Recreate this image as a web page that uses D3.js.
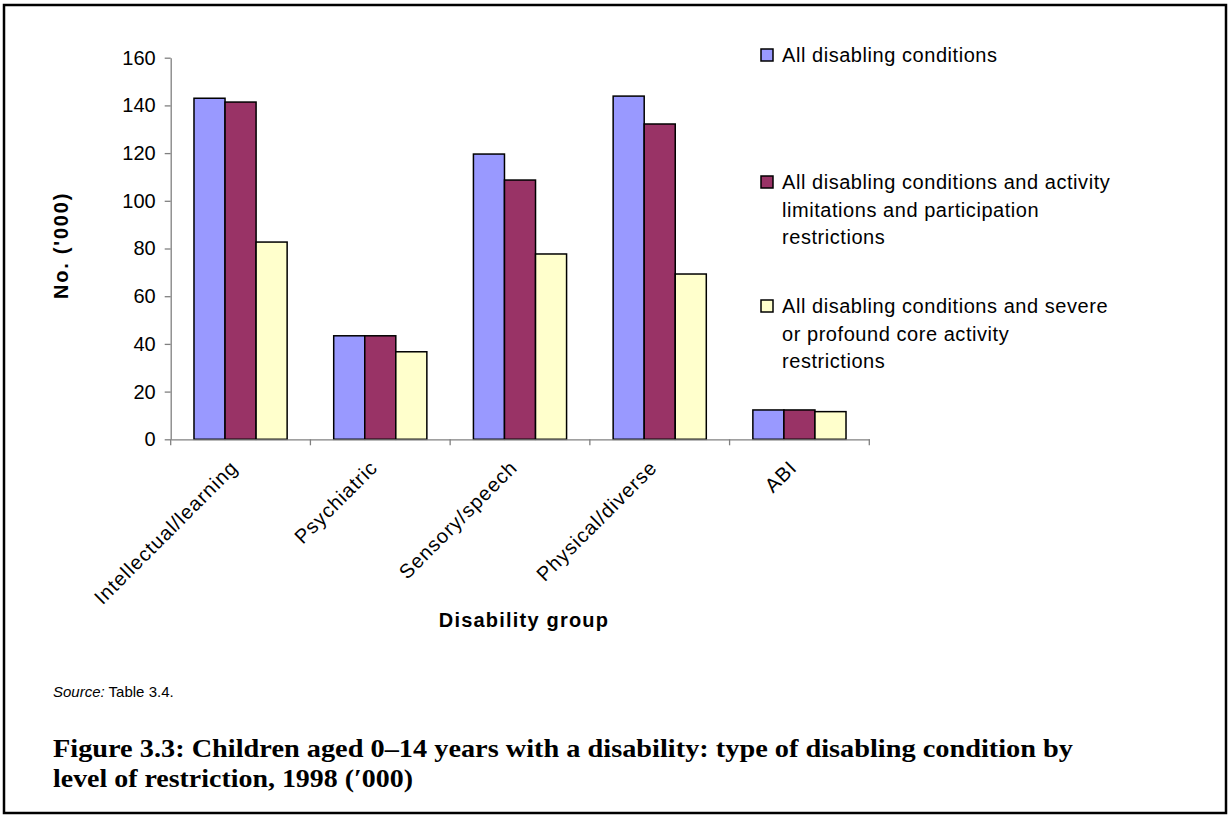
<!DOCTYPE html>
<html>
<head>
<meta charset="utf-8">
<script src="https://cdn.jsdelivr.net/npm/d3@7"></script>
<style>
  body { margin: 0; background: #fff; }
  text { font-family: "Liberation Sans", Arial, sans-serif; fill: #000; }
</style>
</head>
<body>
<div id="chart"></div>
<script>
// categories and values ('000)
var categories = ["Intellectual/learning", "Psychiatric", "Sensory/speech", "Physical/diverse", "ABI"];
var seriesNames = ["All disabling conditions",
                   "All disabling conditions and activity limitations and participation restrictions",
                   "All disabling conditions and severe or profound core activity restrictions"];
var legendLines = [["All disabling conditions"],
                   ["All disabling conditions and activity", "limitations and participation", "restrictions"],
                   ["All disabling conditions and severe", "or profound core activity", "restrictions"]];
var allConditions = [143.0, 43.4, 119.6, 143.9, 12.3];
var activityLimitations = [141.4, 43.4, 108.7, 132.2, 12.3];
var severeProfound = [82.7, 36.7, 77.7, 69.3, 11.6];
var seriesColors = ["#9999FF", "#993366", "#FFFFCC"];
var yTicks = [0, 20, 40, 60, 80, 100, 120, 140, 160];

var width = 1229,
    height = 817;
var plot = { left: 170.7, right: 869.3, top: 57.7, bottom: 439.3 };

var svg = d3.select("#chart").append("svg")
    .attr("width", width)
    .attr("height", height);

// outer frame
svg.append("rect")
  .attr("x", 4).attr("y", 5)
  .attr("width", 1222).attr("height", 808)
  .attr("fill", "none")
  .attr("stroke", "#000")
  .attr("stroke-width", 2.5);

var x = d3.scaleBand()
  .domain(categories)
  .range([plot.left, plot.right]);

var xSub = d3.scaleBand()
  .domain([0, 1, 2])
  .range([0, x.bandwidth()])
  .paddingInner(0)
  .paddingOuter(0.75);

var y = d3.scaleLinear()
  .domain([0, 160])
  .range([plot.bottom, plot.top]);

var seriesData = [allConditions, activityLimitations, severeProfound];

// bars
var groups = svg.append("g").selectAll("g")
  .data(categories)
  .enter().append("g")
    .attr("transform", function(d) { return "translate(" + x(d) + ",0)"; });

groups.selectAll("rect")
  .data(function(d, i) { return seriesData.map(function(s, k) { return { k: k, v: s[i] }; }); })
  .enter().append("rect")
    .attr("x", function(d) { return xSub(d.k); })
    .attr("width", xSub.bandwidth())
    .attr("y", function(d) { return y(d.v); })
    .attr("height", function(d) { return y(0) - y(d.v); })
    .attr("fill", function(d) { return seriesColors[d.k]; })
    .attr("stroke", "#000")
    .attr("stroke-width", 1.5);

// y axis
var yAxis = svg.append("g")
  .attr("transform", "translate(" + plot.left + ",0)")
  .call(d3.axisLeft(y).tickValues(yTicks).tickSize(6).tickSizeOuter(0).tickPadding(9));
yAxis.selectAll("text").style("font-size", "20px").style("font-family", "Liberation Sans, Arial, sans-serif");
yAxis.selectAll("line, path").attr("stroke", "#808080").attr("stroke-width", 1.3);

// x axis
var xAxis = svg.append("g")
  .attr("transform", "translate(0," + plot.bottom + ")")
  .call(d3.axisBottom(x).tickSize(0).tickSizeOuter(0).tickFormat(""));
xAxis.select("path").attr("stroke", "#808080").attr("stroke-width", 1.3);

var boundaries = categories.map(function(c) { return x(c); }).concat([x(categories[categories.length - 1]) + x.bandwidth()]);
svg.append("g").selectAll("line")
  .data(boundaries)
  .enter().append("line")
    .attr("x1", function(d) { return d; })
    .attr("x2", function(d) { return d; })
    .attr("y1", plot.bottom)
    .attr("y2", plot.bottom + 6)
    .attr("stroke", "#808080")
    .attr("stroke-width", 1.3);

// rotated category labels
svg.append("g").selectAll("text")
  .data(categories)
  .enter().append("text")
    .attr("transform", function(d) {
      return "translate(" + (x(d) + x.bandwidth() / 2 - 12) + "," + (plot.bottom + 19) + ") rotate(-45)";
    })
    .attr("text-anchor", "end")
    .attr("dy", "0.75em")
    .style("font-size", "20px")
    .style("letter-spacing", "1px")
    .text(function(d) { return d; });

// axis titles
svg.append("text")
  .attr("transform", "translate(68," + ((plot.top + plot.bottom) / 2 - 3) + ") rotate(-90)")
  .attr("text-anchor", "middle")
  .style("font-size", "20px")
  .style("font-weight", "bold")
  .style("letter-spacing", "1.8px")
  .text("No. ('000)");

svg.append("text")
  .attr("x", 524)
  .attr("y", 627)
  .attr("text-anchor", "middle")
  .style("font-size", "20px")
  .style("font-weight", "bold")
  .style("letter-spacing", "1.2px")
  .text("Disability group");

// legend
var legendTop = [55, 182, 306];
var legend = svg.append("g").selectAll("g")
  .data(legendLines)
  .enter().append("g")
    .attr("transform", function(d, i) { return "translate(761," + legendTop[i] + ")"; });

legend.append("rect")
  .attr("x", 0).attr("y", -6)
  .attr("width", 12).attr("height", 12)
  .attr("fill", function(d, i) { return seriesColors[i]; })
  .attr("stroke", "#000")
  .attr("stroke-width", 1.5);

legend.append("text")
  .attr("x", 21)
  .attr("y", 7)
  .style("font-size", "20px")
  .style("letter-spacing", "0.55px")
  .selectAll("tspan")
  .data(function(d) { return d; })
  .enter().append("tspan")
    .attr("x", 21)
    .attr("dy", function(d, i) { return i === 0 ? 0 : 27.5; })
    .text(function(d) { return d; });

// source note
var src = svg.append("text")
  .attr("x", 53)
  .attr("y", 697)
  .style("font-size", "15px");
src.append("tspan").style("font-style", "italic").text("Source:");
src.append("tspan").text(" Table 3.4.");

// figure caption
var captionLines = ["Figure 3.3: Children aged 0\u201314 years with a disability: type of disabling condition by",
                    "level of restriction, 1998 (\u2032000)"];
var captionWidths = [1020, 360];
svg.append("g").selectAll("text")
  .data(captionLines)
  .enter().append("text")
    .attr("x", 53)
    .attr("y", function(d, i) { return 757 + i * 30; })
    .attr("textLength", function(d, i) { return captionWidths[i]; })
    .attr("lengthAdjust", "spacingAndGlyphs")
    .style("font-family", "Liberation Serif, 'DejaVu Serif', serif")
    .style("font-weight", "bold")
    .style("font-size", "26px")
    .text(function(d) { return d; });
</script>
</body>
</html>
